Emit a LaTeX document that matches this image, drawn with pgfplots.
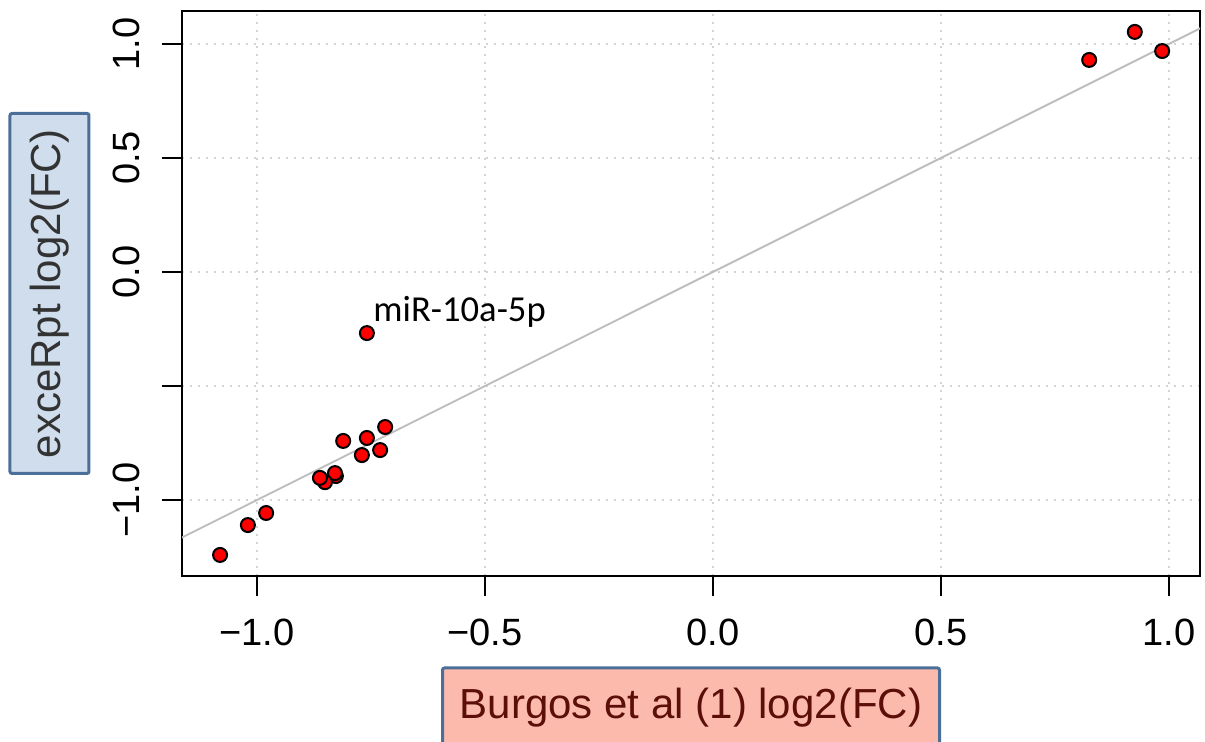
\documentclass[border=0pt]{standalone}
\usepackage{fontspec}
\setmainfont{Liberation Sans}
\newfontfamily\calibri{Carlito}
\usepackage{pgfplots}
\pgfplotsset{compat=1.18}
\definecolor{boxblue}{HTML}{4B6F99}
\definecolor{ylabfill}{HTML}{CFDDED}
\definecolor{xlabfill}{HTML}{FCBAAD}
\definecolor{xlabtext}{HTML}{5C0E08}
\definecolor{ylabtext}{HTML}{333333}
\definecolor{refline}{HTML}{BEBEBE}
\definecolor{gridgray}{HTML}{D3D3D3}

\begin{document}
\begin{tikzpicture}
\useasboundingbox (0,0) rectangle (602.5pt,371pt);
\begin{axis}[
  at={(91pt,83pt)}, anchor=south west,
  scale only axis, width=509pt, height=282.5pt,
  xmin=-1.1645, xmax=1.068, ymin=-1.3333, ymax=1.1447,
  axis line style={line width=1pt},
  tick pos=left, tick align=outside, major tick length=10pt,
  tick style={line width=1pt, black},
  xtick={-1,-0.5,0,0.5,1},
  ytick={-1,-0.5,0,0.5,1},
  xticklabels={−1.0,−0.5,0.0,0.5,1.0},
  yticklabels={−1.0,{},0.0,0.5,1.0},
  ticklabel style={font=\fontsize{19}{22}\selectfont},
  xticklabel style={anchor=base, yshift=-25pt},
  yticklabel style={xshift=-11pt, rotate=90, anchor=base},
  grid=major,
  major grid style={gridgray, line width=1pt, dash pattern=on 0.8pt off 3.2pt},
  xlabel={Burgos et al (1) log2(FC)},
  ylabel={exceRpt log2(FC)},
  xlabel style={at={(axis description cs:0.5,0)}, anchor=center, yshift=-65.75pt,
    font=\fontsize{21}{24}\selectfont, text=xlabtext, fill=xlabfill, draw=boxblue,
    line width=1.5pt, rounded corners=1pt, minimum width=248.5pt, minimum height=39.5pt,
    inner sep=0pt},
  ylabel style={at={(axis description cs:0,0.5)}, anchor=center, yshift=66.25pt,
    font=\fontsize{21}{24}\selectfont, text=ylabtext, fill=ylabfill, draw=boxblue,
    line width=1.5pt, rounded corners=1pt, minimum width=180pt, minimum height=39.5pt,
    inner sep=0pt},
  clip=true,
]
% log2 fold changes of the compared miRNAs
\addplot[only marks, mark=*, mark size=3.5pt,
  mark options={fill=red, draw=black, line width=1pt}] coordinates {
  (0.925,1.053) (0.825,0.930) (0.985,0.969)
  (-0.759,-0.268)
  (-0.719,-0.680) (-0.811,-0.741) (-0.759,-0.728) (-0.730,-0.781) (-0.770,-0.803)
  (-0.827,-0.895) (-0.829,-0.882) (-0.851,-0.922) (-0.862,-0.903)
  (-0.980,-1.057) (-1.020,-1.110) (-1.081,-1.241)
};
% identity line
\addplot[refline, line width=1pt] coordinates {(-1.3,-1.3) (1.2,1.2)};
\node[anchor=base west, inner sep=0pt, font=\calibri\fontsize{18.3}{20}\selectfont]
  at (axis cs:-0.7456,-0.219) {miR-10a-5p};
\end{axis}
\end{tikzpicture}
\end{document}
